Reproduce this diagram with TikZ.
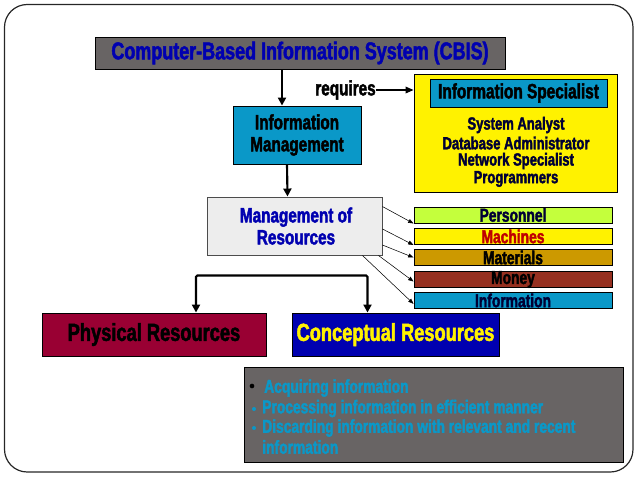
\documentclass[tikz,border=0pt]{standalone}
\usepackage{fontspec}
\setmainfont{Liberation Sans}[UprightFont={* Bold},FakeStretch=0.74,FakeBold=2]
\usetikzlibrary{arrows.meta}
\definecolor{slate}{HTML}{686464}
\definecolor{navyblue}{HTML}{0000B0}
\definecolor{teal}{HTML}{0A98C8}
\definecolor{lime}{HTML}{C4FF3C}
\definecolor{ochre}{HTML}{CC9900}
\definecolor{rust}{HTML}{963020}
\definecolor{wine}{HTML}{990033}
\tikzset{
	boxnode/.style={draw=black,line width=0.7pt,inner sep=0pt},
	textnode/.style={inner sep=0pt,align=center,font=\fontsize{13.2}{13.5}\selectfont},
	barnode/.style={textnode,font=\fontsize{14}{14}\selectfont},
	listnode/.style={textnode,anchor=west,text=teal,font=\fontsize{14}{14}\selectfont},
	bigarrow/.style={line width=1.6pt,-{Triangle[length=6pt,width=6pt]}},
	thinarrow/.style={line width=0.4pt,-{Triangle[length=4pt,width=3pt]}}
}
\begin{document}
\begin{tikzpicture}[x=0.75pt,y=-0.75pt]
	\useasboundingbox (0,0) rectangle (638,479);
	%frame
	\draw[black!85,line width=0.9pt,rounded corners=17pt] (4.5,4.5) rectangle (633,472);
	%top row
	\node[boxnode,fill=slate,minimum width=307.5pt,minimum height=24pt] (cbis) at (300,53) {};
	\node[textnode,text=navyblue,font=\fontsize{18.2}{20}\selectfont] at (cbis) {Computer-Based Information System (CBIS)};
	\node[boxnode,fill=teal,minimum width=96pt,minimum height=43.5pt] (infomgmt) at (297,135) {};
	\node[textnode,font=\fontsize{15.5}{16.5}\selectfont] at (infomgmt) {Information\\Management};
	\node[boxnode,fill=yellow,minimum width=152.25pt,minimum height=88.5pt] (specbox) at (515.5,133) {};
	\node[boxnode,fill=teal,minimum width=132.75pt,minimum height=21pt] (spectitle) at (518.5,93) {};
	\node[textnode,font=\fontsize{15.6}{16}\selectfont] at (spectitle) {Information Specialist};
	\node[textnode,text=black!70!navyblue] at (516,125) {System Analyst};
	\node[textnode,text=black!70!navyblue] at (516,143) {Database Administrator};
	\node[textnode,text=black!70!navyblue] at (516,161) {Network Specialist};
	\node[textnode,text=black!70!navyblue] at (516,179) {Programmers};
	\node[textnode,font=\fontsize{15.5}{16}\selectfont] (requires) at (345.5,90) {requires};
	%resources
	\node[boxnode,draw=black!70,fill=black!7,minimum width=131.25pt,minimum height=43.5pt] (resources) at (294.5,226) {};
	\node[textnode,text=navyblue,font=\fontsize{15.5}{16.5}\selectfont] at (296,226) {Management of\\Resources};
	%five bars
	\node[boxnode,fill=lime,minimum width=148.5pt,minimum height=12pt] (personnel) at (513,215) {};
	\node[barnode,text=black!70!navyblue] at (personnel) {Personnel};
	\node[boxnode,fill=yellow,minimum width=148.5pt,minimum height=12pt] (machines) at (513,236.5) {};
	\node[barnode,text=red!75!black] at (machines) {Machines};
	\node[boxnode,fill=ochre,minimum width=148.5pt,minimum height=12pt] (materials) at (513,257.5) {};
	\node[barnode] at (materials) {Materials};
	\node[boxnode,fill=rust,minimum width=148.5pt,minimum height=12pt] (money) at (513,279.5) {};
	\node[barnode] at (money) {Money};
	\node[boxnode,fill=teal,minimum width=148.5pt,minimum height=12pt] (information) at (513,300.5) {};
	\node[barnode,text=black!70!navyblue] at (information) {Information};
	%two kinds
	\node[boxnode,fill=wine,minimum width=168pt,minimum height=32.25pt] (physical) at (154,334.5) {};
	\node[textnode,font=\fontsize{18.5}{20}\selectfont] at (physical) {Physical Resources};
	\node[boxnode,fill=navyblue,minimum width=155.25pt,minimum height=32.25pt] (conceptual) at (395.5,334.5) {};
	\node[textnode,text=yellow,font=\fontsize{18.5}{20}\selectfont] at (conceptual) {Conceptual Resources};
	%list
	\node[boxnode,fill=slate,minimum width=284.25pt,minimum height=71.25pt] (listbox) at (433.5,414.5) {};
	\node[inner sep=0pt,circle,fill=black,minimum size=3.5pt] (dotA) at (252,386) {};
	\node[inner sep=0pt,circle,fill=teal,minimum size=3pt] (dotB) at (254,409) {};
	\node[inner sep=0pt,circle,fill=teal,minimum size=3pt] (dotC) at (254,428) {};
	\node[listnode] at (264,388) {Acquiring information};
	\node[listnode] at (262,408.5) {Processing information in efficient manner};
	\node[listnode] at (262,428) {Discarding information with relevant  and recent};
	\node[listnode] at (262,447) {information};
	%arrows
	\draw[bigarrow] ([xshift=-11.25pt]infomgmt.north |- cbis.south) -- ([xshift=-11.25pt]infomgmt.north);
	\draw[bigarrow] ([xshift=-7.5pt]infomgmt.south) -- ([xshift=-5.25pt]resources.north);
	\draw[line width=0.9pt,-{Triangle[length=6pt,width=5pt]}] (requires.east) -- (requires.east -| specbox.west);
	\draw[bigarrow,{Triangle[length=6pt,width=6pt]}-{Triangle[length=6pt,width=6pt]},rounded corners=1pt] ([xshift=31.5pt]physical.north) -- ++(0,-37) -| ([xshift=-21pt]conceptual.north);
	\draw[thinarrow] ([yshift=-7.5pt]resources.north east) -- (personnel.south west);
	\draw[thinarrow] ([yshift=-2.25pt]resources.east) -- (machines.south west);
	\draw[thinarrow] ([yshift=-14.25pt]resources.east) -- (materials.west);
	\draw[thinarrow] ([xshift=-3pt]resources.south east) -- ([yshift=-1.5pt]money.west);
	\draw[thinarrow] ([xshift=-15pt]resources.south east) -- ([yshift=-2.5pt]information.west);
\end{tikzpicture}
\end{document}
